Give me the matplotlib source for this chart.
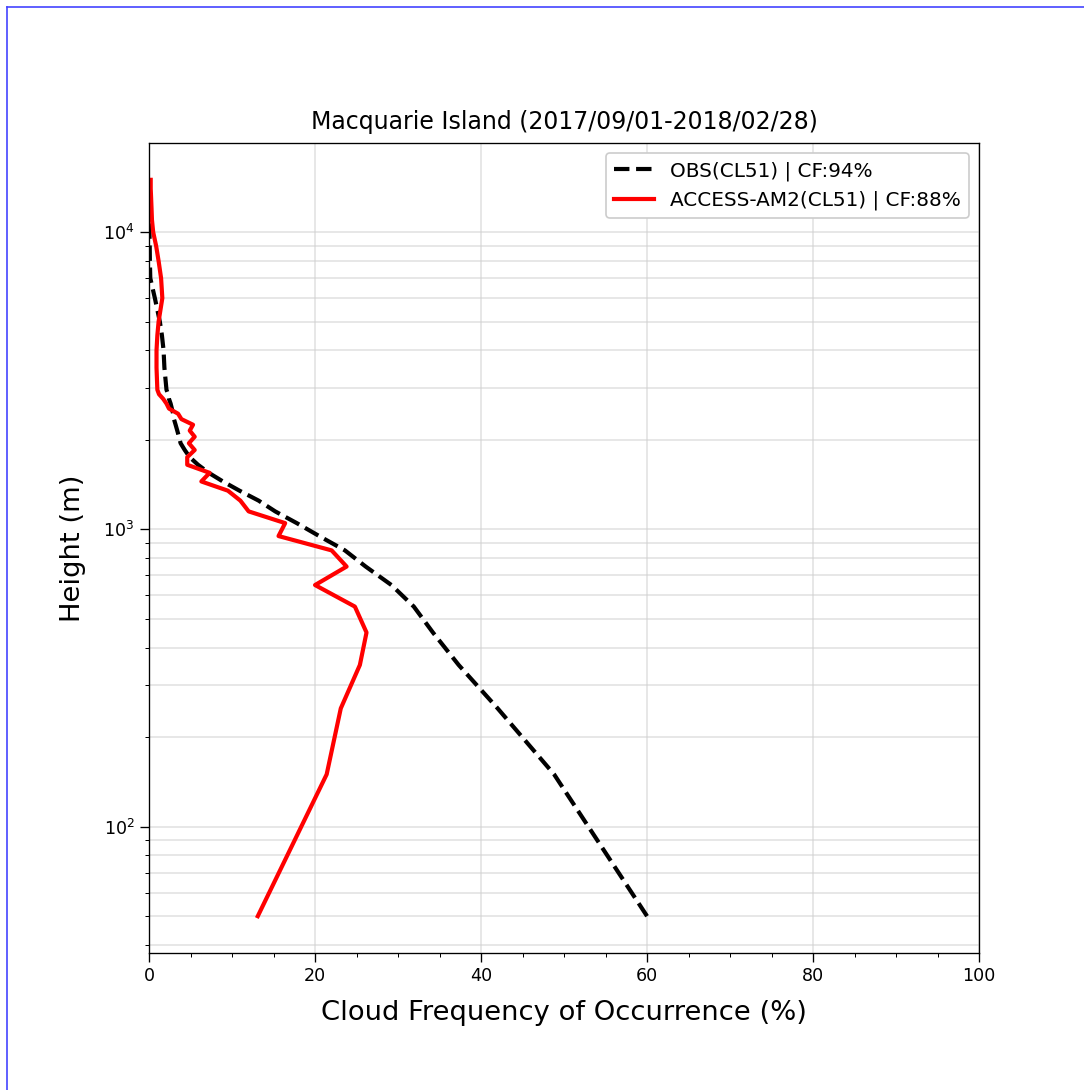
import matplotlib
matplotlib.use("Agg")
import matplotlib.pyplot as plt
from matplotlib.lines import Line2D
import numpy as np

# ---- data ----
heights_low = [50, 150, 250, 350, 450, 550, 650, 750, 850, 950, 1050, 1150, 1250, 1350,
               1450, 1550, 1650, 1750, 1850, 1950, 2050, 2150, 2250, 2350, 2450, 2550,
               2650, 2750, 2850, 2950]
heights_high = [3500, 4000, 4500, 5000, 6000, 7000, 8000, 9000, 10000, 11000, 12000,
                13000, 14000, 15000]
heights = heights_low + heights_high

obs_cf = [60.0, 48.8, 42.0, 37.3, 34.2, 31.9, 29.2, 26.1, 23.6, 20.5, 17.8, 15.2, 13.2, 10.9,
          8.9, 7.2, 5.9, 4.9, 4.3, 3.8, 3.6, 3.4, 3.2, 3.0, 2.9, 2.75,
          2.6, 2.4, 2.3, 2.1,
          1.85, 1.75, 1.55, 1.3, 0.7, 0.15, 0.1, 0.08, 0.05, 0.03, 0.02, 0.02, 0.02, 0.02]

model_cf = [13.1, 21.4, 23.1, 25.4, 26.2, 24.8, 20.0, 23.8, 22.0, 15.6, 16.4, 12.0, 11.0, 9.5,
            6.3, 7.3, 4.6, 4.6, 5.5, 4.8, 5.5, 4.9, 5.3, 3.9, 3.5, 2.4,
            2.1, 1.7, 1.2, 1.0,
            0.9, 0.9, 1.0, 1.15, 1.6, 1.45, 1.15, 0.85, 0.5, 0.35, 0.3, 0.25, 0.2, 0.2]

obs_label = "OBS(CL51) | CF:94%"
model_label = "ACCESS-AM2(CL51) | CF:88%"
title = "Macquarie Island (2017/09/01-2018/02/28)"
xlabel = "Cloud Frequency of Occurrence (%)"
ylabel = "Height (m)"

DPI = 120
fig = plt.figure(figsize=(1084 / DPI, 1090 / DPI), dpi=DPI)
ax = fig.add_axes([0.1375, 0.1257, 0.7657, 0.7431])

ax.plot(obs_cf, heights, color="black", linestyle="--", linewidth=2.5, label=obs_label)
ax.plot(model_cf, heights, color="red", linestyle="-", linewidth=2.5, label=model_label)

ax.set_yscale("log")
ax.set_xlim(0, 100)
ax.set_xticks([0, 20, 40, 60, 80, 100])
ax.set_xticks(np.arange(0, 101, 5), minor=True)

ax.grid(True, axis="x", which="major", color="#d0d0d0", linewidth=1.0, alpha=0.6)
ax.grid(True, axis="y", which="both", color="#d0d0d0", linewidth=1.0, alpha=0.6)

ax.tick_params(axis="both", which="major", labelsize=10.5, length=5.2)
ax.tick_params(axis="both", which="minor", length=2.4)

ax.set_title(title, fontsize=14.2, pad=8.5)
ax.set_xlabel(xlabel, fontsize=16.4, labelpad=8.5)
ax.set_ylabel(ylabel, fontsize=16.4, labelpad=10)

ax.legend(loc="upper right", fontsize=12, framealpha=1.0)

# thin blue frame at left and top edges of the image
fig.add_artist(Line2D([7/1084, 7/1084], [0, 1 - 7/1090], transform=fig.transFigure,
                      color="#4444ff", linewidth=1.0))
fig.add_artist(Line2D([7/1084, 1], [1 - 7/1090, 1 - 7/1090], transform=fig.transFigure,
                      color="#4444ff", linewidth=1.0))

fig.savefig("out.png", dpi=DPI)
